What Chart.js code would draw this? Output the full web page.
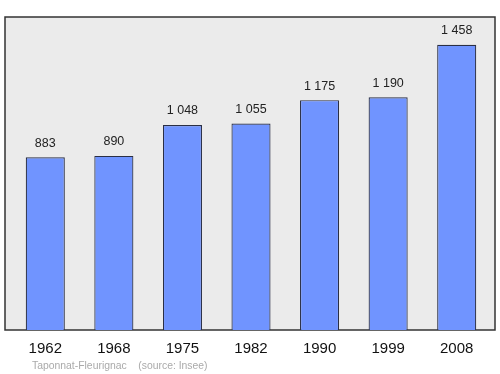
<!DOCTYPE html>
<html>
<head>
<meta charset="utf-8">
<script src="https://cdn.jsdelivr.net/npm/chart.js@4/dist/chart.umd.min.js"></script>
<style>
  html, body { margin: 0; padding: 0; background: #fff; }
  canvas { display: block; }
</style>
</head>
<body>
<canvas id="popChart" width="500" height="374"></canvas>
<script>
// Données (population)
const years = ['1962', '1968', '1975', '1982', '1990', '1999', '2008'];
const population = [883, 890, 1048, 1055, 1175, 1190, 1458];
const yMax = 1600;
const footerText = 'Taponnat-Fleurignac    (source: Insee)';

const FONT = '"Liberation Sans", Arial, sans-serif';

// format "1 048"
function formatNum(n) {
    return String(n).replace(/\B(?=(\d{3})+(?!\d))/g, ' ');
}

// Fond gris + cadre + étiquettes de valeur + source
const framePlugin = {
    id: 'frame',
    beforeDraw(chart) {
        const { ctx, chartArea: a } = chart;
        ctx.save();
        ctx.fillStyle = '#ebebeb';
        ctx.strokeStyle = '#333';
        ctx.lineWidth = 1.5;
        ctx.fillRect(a.left - 6, a.top, (a.right + 4) - (a.left - 6), a.bottom - a.top);
        ctx.strokeRect(a.left - 6, a.top, (a.right + 4) - (a.left - 6), a.bottom - a.top);
        ctx.restore();
    },
    afterDraw(chart) {
        const { ctx } = chart;
        const meta = chart.getDatasetMeta(0);
        ctx.save();
        ctx.fillStyle = '#222';
        ctx.font = '12.5px ' + FONT;
        ctx.textAlign = 'center';
        ctx.textBaseline = 'middle';
        meta.data.forEach((bar, i) => {
            ctx.fillText(formatNum(population[i]), bar.x, bar.y - 14);
        });
        ctx.fillStyle = '#aaa';
        ctx.font = '10.4px ' + FONT;
        ctx.textAlign = 'left';
        ctx.fillText(footerText, 32, 366);
        ctx.restore();
    }
};

new Chart(document.getElementById('popChart'), {
    type: 'bar',
    data: {
        labels: years,
        datasets: [{
            data: population,
            backgroundColor: '#7094ff',
            borderColor: '#2a2f45',
            borderWidth: 1.2,
            categoryPercentage: 0.57,
            barPercentage: 1
        }]
    },
    options: {
        responsive: false,
        animation: false,
        layout: { padding: { left: 11, right: 9, top: 17, bottom: 0 } },
        plugins: {
            legend: { display: false },
            tooltip: { enabled: false }
        },
        scales: {
            x: {
                grid: { display: false, drawTicks: false },
                border: { display: false },
                ticks: {
                    color: '#111',
                    font: { family: FONT, size: 15 },
                    padding: 10
                },
                afterFit(scale) { scale.height = 44; }
            },
            y: {
                display: false,
                min: 0,
                max: yMax
            }
        }
    },
    plugins: [framePlugin]
});
</script>
</body>
</html>
